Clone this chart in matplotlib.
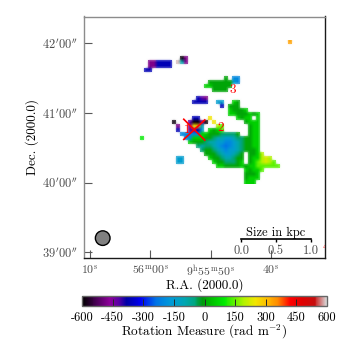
import numpy as np
import matplotlib
matplotlib.use('Agg')
import matplotlib.pyplot as plt
from matplotlib.colors import LinearSegmentedColormap, Normalize
from matplotlib.patches import Ellipse

plt.rcParams['font.family'] = ['cmr10']
plt.rcParams['mathtext.fontset'] = 'cm'
plt.rcParams['axes.unicode_minus'] = False
plt.rcParams['axes.formatter.use_mathtext'] = True

# RM map, one character per map cell, '.' = no signal
rm_codes = list('kpdbAactegGlLyzYow')
rm_values = [-590, -480, -420, -370, -235, -200, -150, -90, -45, 0, 60, 96, 144, 192, 225, 252, 336, 590]

rm_rows = [
    '.......................................o',
    '',
    '',
    '',
    '............kp',
    '....ppbbbb.wtp',
    '....ppbbbb',
    '...bb',
    '',
    '.......................g.aa',
    '...................gggggg' + 'ca',
    '..................GGggggg',
    '....................gggg',
    '',
    '................bdp',
    '...............bbbb..cc..Gg',
    '......................b.ggg',
    '........................GgggG',
    '........................GGgggGgG',
    '...............bb..Y......GgGG.G',
    '..........k...dkkpk.Y.......gGGG',
    '...........p..pYot...yL......gGG',
    '...........b..pdbc.GgGL......gGG',
    '............aaaaaGGgggeeeeg..gGG',
    '..l..........aaGGGggettcctee' + 'ggGG',
    '..............Ggggettccaacteg' + 'gGG',
    '................eteetcaAacte' + 'ggGG',
    '.................eggetcaccte' + 'gggG',
    '..................gggetcctegg'[:28] + '.ggGy',
    '...........cc......Gggettegg.gGGyzy',
    '...........cc.......Gggeeeg' + 'G.gGLyzyL',
    '.....................GGggggGgGGLLLLLL',
    '............................GgGGL',
    '............................gggG',
    '............................gGGG',
    '............................GGG',
]

ra_ticks = [70, 60, 50, 40]
ra_labels = [r'$10^{\mathrm{s}}$', r'$56^{\mathrm{m}}00^{\mathrm{s}}$',
             r'$9^{\mathrm{h}}55^{\mathrm{m}}50^{\mathrm{s}}$', r'$40^{\mathrm{s}}$']
dec_ticks = [39, 40, 41, 42]
dec_labels = [r"$39'00''$", r"$40'00''$", r"$41'00''$", r"$42'00''$"]
cbar_ticks = [-600, -450, -300, -150, 0, 150, 300, 450, 600]
kpc_ticks = [0.0, 0.5, 1.0]

ncols = 41
rm_map = np.full((len(rm_rows), ncols), np.nan)
for j, row in enumerate(rm_rows):
    for i, ch in enumerate(row):
        if ch != '.':
            rm_map[j, i] = rm_values[rm_codes.index(ch)]

rm_cmap = LinearSegmentedColormap.from_list('rm', [
    (0.00, (0, 0, 0)), (0.06, (0.30, 0, 0.35)), (0.11, (0.55, 0, 0.60)),
    (0.15, (0.35, 0, 0.65)), (0.18, (0, 0, 0.65)), (0.24, (0, 0, 0.95)),
    (0.30, (0, 0.45, 0.90)), (0.36, (0, 0.60, 0.85)), (0.42, (0, 0.65, 0.70)),
    (0.46, (0, 0.65, 0.50)), (0.47, (0, 0.62, 0.30)), (0.49, (0, 0.60, 0.05)),
    (0.52, (0, 0.72, 0)), (0.58, (0, 0.92, 0)), (0.62, (0.35, 0.95, 0)),
    (0.66, (0.70, 0.95, 0)), (0.71, (0.95, 0.90, 0)), (0.76, (1, 0.72, 0)),
    (0.80, (1, 0.55, 0)), (0.85, (1, 0, 0)), (0.90, (0.88, 0, 0)),
    (0.95, (0.78, 0.05, 0.05)), (1.00, (0.85, 0.85, 0.85))])
rm_cmap.set_bad((1, 1, 1, 0))

fig = plt.figure(figsize=(3.5, 3.4), dpi=100)
ax = fig.add_axes([84 / 350, 1 - 258 / 340, 241 / 350, 241.5 / 340])

map_extent = (63.06, 35.95, 39.98, 42.05)
# blocky layer keeps the cell edges, smooth layer on top blends the inside
ax.imshow(rm_map, cmap=rm_cmap, norm=Normalize(-600, 600), aspect='auto',
          extent=map_extent, interpolation='nearest')
im = ax.imshow(rm_map, cmap=rm_cmap, norm=Normalize(-600, 600), aspect='auto',
               extent=map_extent, interpolation='bilinear',
               interpolation_stage='rgba')
ax.set_xlim(71.0, 31.07)
ax.set_ylim(38.914, 42.388)

ax.set_xticks(ra_ticks)
ax.set_xticklabels(ra_labels, fontsize=8.5, color='0.3')
ax.set_yticks(dec_ticks)
ax.set_yticklabels(dec_labels, fontsize=9, color='0.3')
ax.tick_params(direction='in', length=5.5, width=0.8, color='0.35', pad=4)
ax.set_xlabel('R.A. (2000.0)', fontsize=9.5)
ax.xaxis.set_label_coords(0.5, -0.085)
ax.set_ylabel('Dec. (2000.0)', fontsize=9.5)
ax.yaxis.set_label_coords(-0.185, 0.5)
for side, col in zip(['top', 'left', 'right', 'bottom'], ['0.55', '0.55', '0.1', '0.1']):
    ax.spines[side].set_color(col)
    ax.spines[side].set_linewidth(1.0)

# red cross and labels
ax.plot([54.47, 50.99], [40.91, 40.61], color='red', lw=1.2)
ax.plot([54.47, 50.99], [40.62, 40.90], color='red', lw=1.2)
ax.text(53.9, 40.76, '1', color='red', fontsize=9.5, ha='center', va='center')
ax.text(48.4, 40.79, '2', color='red', fontsize=9.5, ha='center', va='center')
ax.text(46.4, 41.33, '3', color='red', fontsize=9.5, ha='center', va='center')
ax.text(31.0, 39.07, '4', color='red', fontsize=8, ha='center', va='center', clip_on=True)

# beam
ax.add_patch(Ellipse((67.9, 39.2), 2.43, 0.21, fc='0.5', ec='black', lw=1.0))

# size bar
bar = ax.inset_axes([157 / 241, 19 / 241.5, 70 / 241, 0.001])
bar.patch.set_alpha(0)
bar.set_xlim(0, 1)
bar.set_yticks([])
bar.set_xticks(kpc_ticks)
bar.set_xticklabels(['0.0', '0.5', '1.0'], fontsize=9, color='0.3')
bar.tick_params(axis='x', direction='out', length=2.5, width=1.0, pad=1.5)
for side in ['top', 'left', 'right']:
    bar.spines[side].set_visible(False)
bar.spines['bottom'].set_linewidth(1.2)
bar.set_title('Size in kpc', fontsize=9, pad=1.5)

cax = fig.add_axes([82 / 350, 1 - 306 / 340, 245 / 350, 10 / 340])
cb = fig.colorbar(im, cax=cax, orientation='horizontal', ticks=cbar_ticks)
cb.ax.set_xticklabels([str(t) for t in cbar_ticks], fontsize=9)
cb.ax.tick_params(direction='in', length=5, width=0.7, color='0.15', pad=4)
cb.outline.set_edgecolor('0.4')
cb.outline.set_linewidth(1.0)
cb.set_label(r'Rotation Measure (rad m$^{-2}$)', fontsize=9.5, labelpad=-0.5)

fig.savefig('out.png', dpi=100)
